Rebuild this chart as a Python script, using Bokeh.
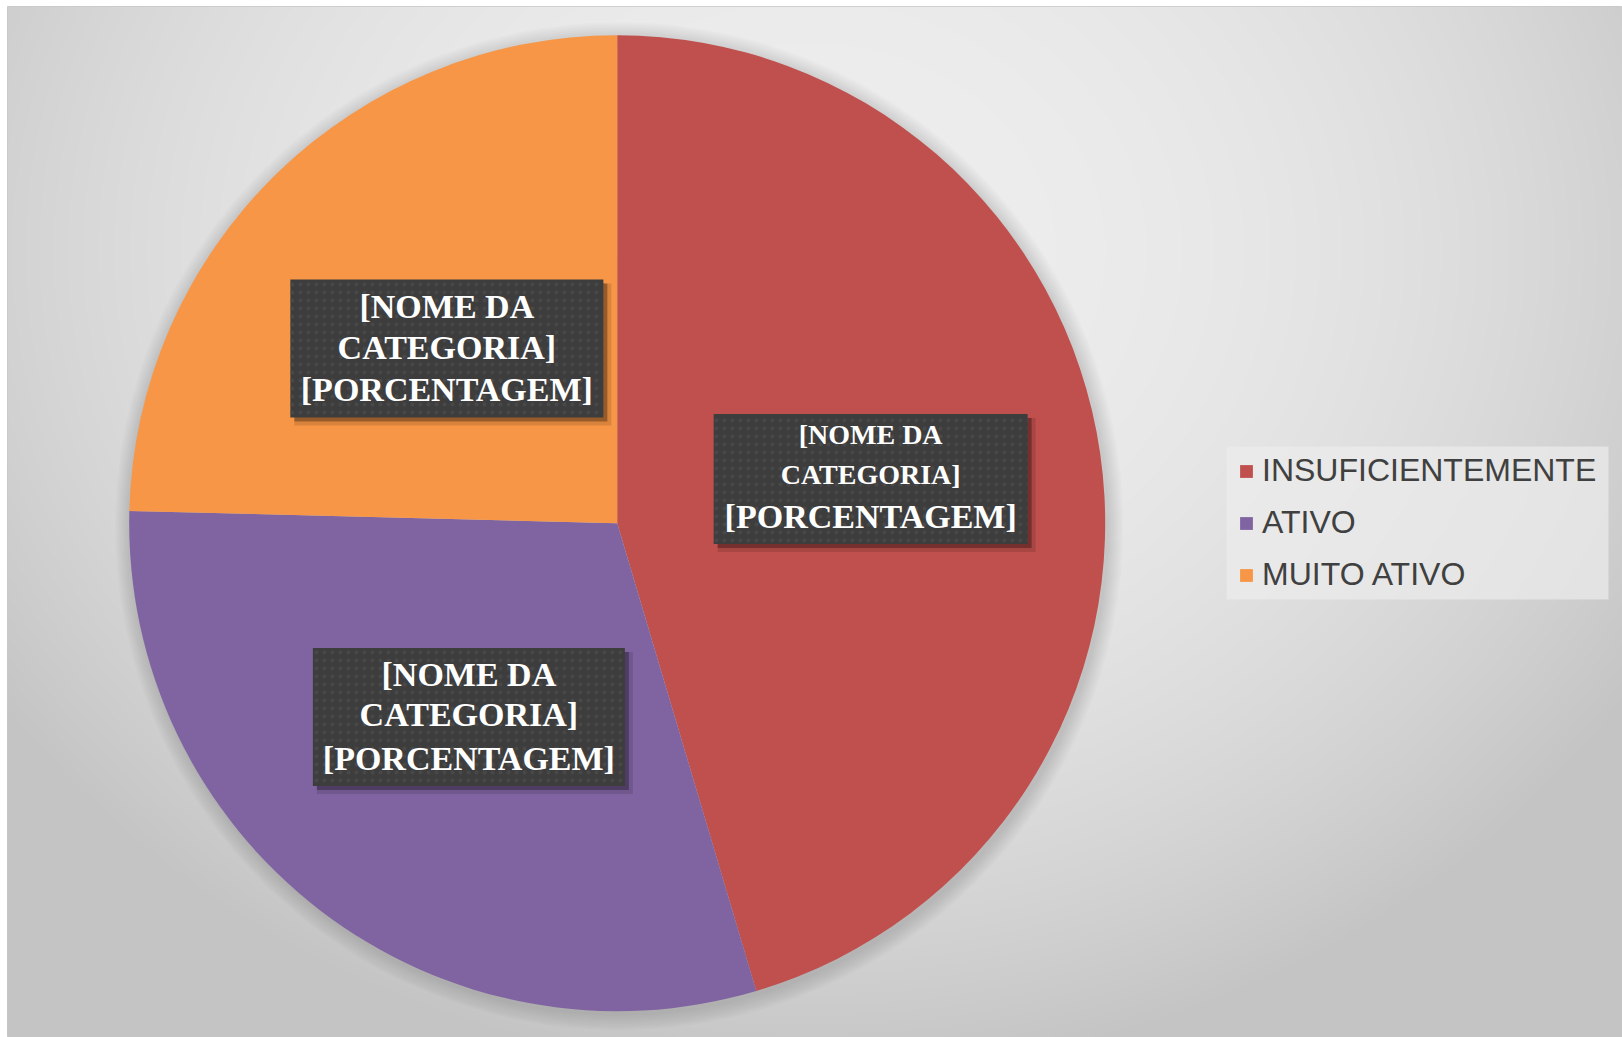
import numpy as np
from bokeh.plotting import figure
from bokeh.models import Range1d, Legend, LegendItem, ColumnDataSource
from bokeh.core.properties import value
from bokeh.embed import file_html
from bokeh.resources import INLINE

# ---------------- data ----------------
categories = ["INSUFICIENTEMENTE", "ATIVO", "MUITO ATIVO"]
values = [45.4, 30.0, 24.6]
colors = ["#C0504D", "#8064A2", "#F79646"]
label_lines = ["[NOME DA", "CATEGORIA]", "[PORCENTAGEM]"]

# ---------------- layout ----------------
W, H = 1622, 1037
BL, BT = 7, 6
PX = 488.0               # pixels per data unit (= pie radius)
CX, CY = 616.7, 522.7    # pie centre on screen
x0, x1 = (BL - CX) / PX, (W - CX) / PX
y0, y1 = (CY - H) / PX, (CY - BT) / PX

p = figure(width=W, height=H, x_range=Range1d(x0, x1), y_range=Range1d(y0, y1),
           output_backend="svg", toolbar_location=None,
           x_axis_location=None, y_axis_location=None,
           min_border_left=BL, min_border_top=BT, min_border_right=0, min_border_bottom=0)
p.grid.visible = False
p.outline_line_color = "#c8c8c8"
p.border_fill_color = "white"
p.background_fill_color = "#dddddd"

# background radial gradient (decorative)
gw, gh = 808, 516
xs = np.linspace(BL, W, gw)
ys = np.linspace(H, BT, gh)
X, Y = np.meshgrid(xs, ys)
t2 = ((X - 811) / 1000.0) ** 2 + ((Y - 250) / 850.0) ** 2
b = np.clip(238 - 44 * t2 ** 1.1, 196, 255).astype(np.uint32)
img = (np.uint32(255) << 24) | (b << 16) | (b << 8) | b
p.image_rgba(image=[img], x=x0, y=y0, dw=x1 - x0, dh=y1 - y0)

# soft pie shadow
for k in range(1, 9):
    p.circle(x=[2 / PX], y=[-3 / PX], radius=1 + k * 2.0 / PX,
             fill_color="black", fill_alpha=0.014, line_color=None)

# ---------------- pie ----------------
frac = np.array(values) / sum(values)
cum = np.concatenate([[0.0], np.cumsum(frac)])
start = np.pi / 2 - 2 * np.pi * cum[:-1]
end = np.pi / 2 - 2 * np.pi * cum[1:]
src = ColumnDataSource(dict(cat=categories, val=values, color=colors, start=start, end=end))
wedges = p.wedge(x=0, y=0, radius=1, start_angle="start", end_angle="end",
                 direction="clock", fill_color="color", line_color=None, source=src)

# ---------------- data labels ----------------
mid = (start + end) / 2
lab_r = 0.5
lab_dx = [12, 0, 0]        # screen px adjustments
lab_dy = [-9, 0, 0]
box_w = [314, 312, 313]
box_h = [130, 138, 138]
line_sizes = [["28px", "28px", "34px"], ["34px", "34px", "34px"], ["34px", "34px", "34px"]]
line_offs = [[-45, -5, 37], [-42, -2, 42], [-42, -1, 41]]

lx = lab_r * np.cos(mid) + np.array(lab_dx) / PX
ly = lab_r * np.sin(mid) - np.array(lab_dy) / PX

# shadows
p.rect(x=lx + 6 / PX, y=ly - 6 / PX, width=[w + 4 for w in box_w], height=[h + 4 for h in box_h],
       width_units="screen", height_units="screen", fill_color="black", fill_alpha=0.12, line_color=None)
p.rect(x=lx + 4 / PX, y=ly - 4 / PX, width=box_w, height=box_h,
       width_units="screen", height_units="screen", fill_color="black", fill_alpha=0.3, line_color=None)
# boxes
p.rect(x=lx, y=ly, width=box_w, height=box_h, width_units="screen", height_units="screen",
       fill_color="#3d3d3d", line_color=None,
       hatch_pattern="dot", hatch_color="#484848", hatch_scale=8, hatch_weight=2.5)

tx, ty, tt, ts, to = [], [], [], [], []
for i in range(len(categories)):
    for j, line in enumerate(label_lines):
        tx.append(lx[i]); ty.append(ly[i]); tt.append(line)
        ts.append(line_sizes[i][j]); to.append(line_offs[i][j])
tsrc = ColumnDataSource(dict(x=tx, y=ty, text=tt, size=ts, off=to))
p.text(x="x", y="y", text="text", y_offset="off", text_font_size="size", source=tsrc,
       text_font=value("Liberation Serif"), text_font_style="bold", text_color="white",
       text_align="center", text_baseline="alphabetic")

# ---------------- legend ----------------
# legend background panel (decorative)
LGX, LGY, LGW, LGH = 1417.0, 522.5, 382, 153
p.rect(x=[(LGX - CX) / PX], y=[(CY - LGY) / PX], width=LGW, height=LGH,
       width_units="screen", height_units="screen",
       fill_color="#ececec", fill_alpha=0.7, line_color=None)

items = [LegendItem(label=c, renderers=[wedges], index=i) for i, c in enumerate(categories)]
legend = Legend(items=items, location=(1231, 444), orientation="vertical",
                label_text_font="Liberation Sans", label_text_font_size="32px",
                label_text_color="#404040", glyph_width=16, glyph_height=16,
                label_standoff=8, padding=0, spacing=15, margin=0,
                background_fill_alpha=0.0, border_line_color=None)
p.add_layout(legend)

open("out.html", "w").write(file_html(p, INLINE))
